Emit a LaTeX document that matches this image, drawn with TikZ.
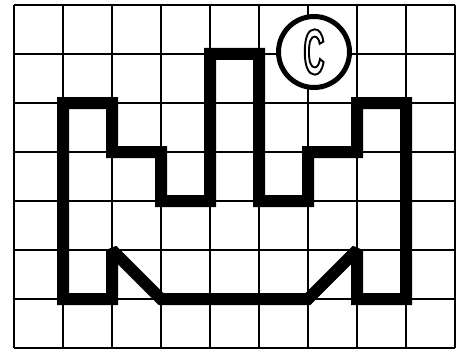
\documentclass[tikz,border=0pt]{standalone}
\usepackage{fontspec}
\newfontfamily\cfont{Liberation Sans Bold}[FakeStretch=0.45]
\tikzset{
  gridline/.style={line width=2.4pt, black},
  outline/.style={line width=12pt, black, miter limit=2, line join=miter},
  badge/.style={circle, draw=black, line width=5pt, fill=white, minimum size=71pt, inner sep=0pt}
}
\newcommand\hollow[1]{{\color{white}\special{pdf:literal direct 2 Tr 1.9 w 0 G}#1\special{pdf:literal direct 0 Tr}}}
\begin{document}
\begin{tikzpicture}[x=1pt,y=-1pt]
\useasboundingbox (0,0) rectangle (462,350);
\fill[white] (0,0) rectangle (462,350);
\begin{scope}[shift={(14pt,-5pt)},x=49pt,y=-49pt]
  \foreach \i in {0,...,9} \draw[gridline] (\i,0) -- (\i,7);
  \foreach \j in {0,...,7} \draw[gridline] (0,\j) -- (9,\j);
  \draw[outline] (1,2) -- (2,2) -- (2,3) -- (3,3) -- (3,4) -- (4,4) -- (4,1) -- (5,1)
     -- (5,4) -- (6,4) -- (6,3) -- (7,3) -- (7,2) -- (8,2) -- (8,6) -- (7,6) -- (7,5)
     -- (6,6) -- (3,6) -- (2,5) -- (2,6) -- (1,6) -- cycle;
\end{scope}
\node[badge] (badge) at (314,52) {\fontsize{64}{64}\cfont\hollow{C}};
\end{tikzpicture}
\end{document}
